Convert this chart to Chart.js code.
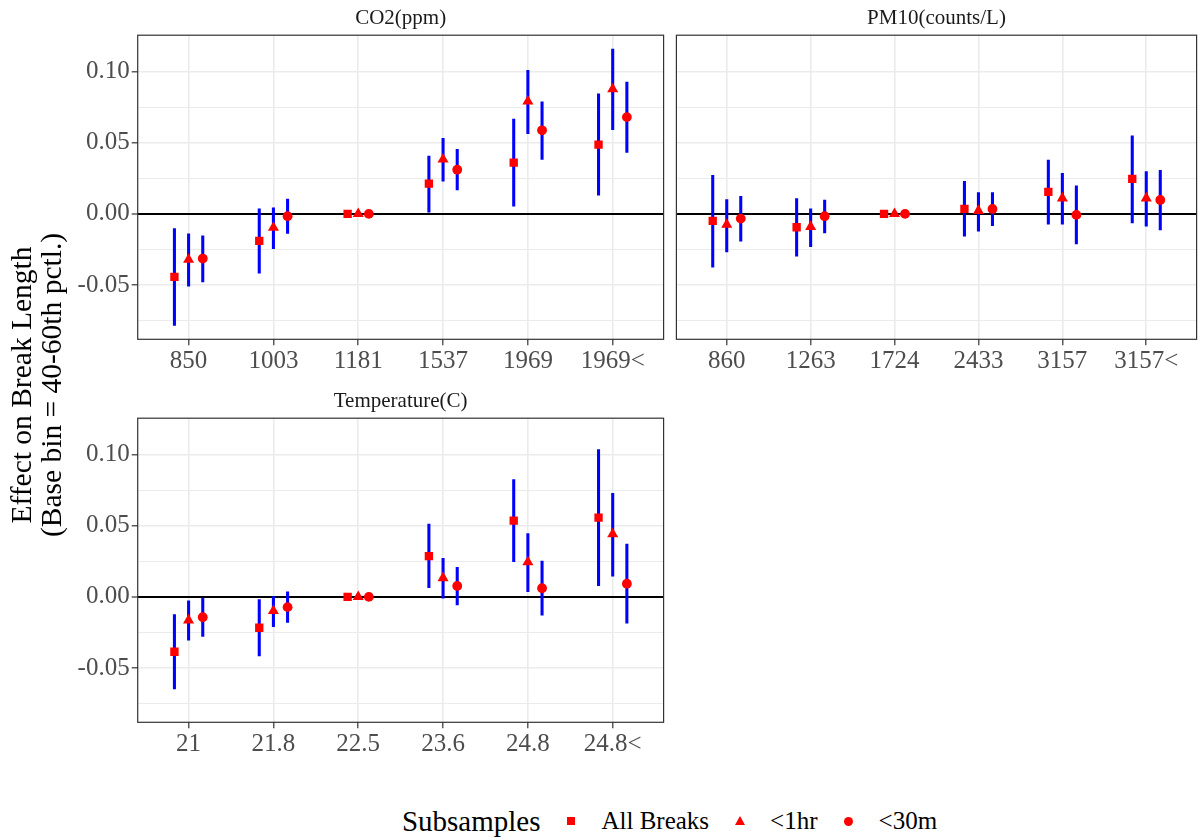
<!DOCTYPE html>
<html>
<head>
<meta charset="utf-8">
<script src="https://cdn.jsdelivr.net/npm/chart.js@4.4.0/dist/chart.umd.min.js"></script>
<style>
  body { margin: 0; background: #fff; width: 1203px; height: 838px; position: relative; overflow: hidden;
         font-family: 'Liberation Serif', 'Times New Roman', serif; }
  .panel { position: absolute; }
  #ytitle { position: absolute; left: -262px; top: 353px; width: 600px; height: 64px;
            transform: rotate(-90deg); text-align: center; font-size: 29.5px; line-height: 30px; color: #000; }
  #legend { position: absolute; left: 138px; width: 1063px; top: 804px; height: 34px;
            display: flex; justify-content: center; align-items: center; color: #000; }
  #legend .title { font-size: 29px; margin-right: 23px; }
  #legend .key { width: 16px; height: 16px; margin-right: 22px; position: relative; }
  #legend .txt { font-size: 25px; margin-right: 23px; }
  #legend .txt:last-child { margin-right: 0; }
  .sq { position: absolute; left: 4px; top: 4px; width: 8px; height: 8px; background: #f00; }
  .tri { position: absolute; left: 3px; top: 3px; width: 0; height: 0;
         border-left: 5px solid transparent; border-right: 5px solid transparent; border-bottom: 9px solid #f00; }
  .dot { position: absolute; left: 3.5px; top: 3.5px; width: 9px; height: 9px; border-radius: 50%; background: #f00; }
</style>
</head>
<body>
<canvas id="p1" class="panel" style="left:0;top:0" width="670" height="385"></canvas>
<canvas id="p2" class="panel" style="left:670px;top:0" width="533" height="385"></canvas>
<canvas id="p3" class="panel" style="left:0;top:383px" width="670" height="385"></canvas>
<div id="ytitle">Effect on Break Length<br>(Base bin = 40-60th pctl.)</div>
<div id="legend">
  <span class="title">Subsamples</span>
  <span class="key"><span class="sq"></span></span><span class="txt">All Breaks</span>
  <span class="key"><span class="tri"></span></span><span class="txt">&lt;1hr</span>
  <span class="key"><span class="dot"></span></span><span class="txt">&lt;30m</span>
</div>
<script>
'use strict'

const SERIES = ['All Breaks', '<1hr', '<30m']

// each row: [estimate, lower, upper]
const co2Bins = ['850', '1003', '1181', '1537', '1969', '1969<']
const co2All = [[-0.0443, -0.0785, -0.0103], [-0.019, -0.0417, 0.0035], [0, 0, 0],
  [0.0213, 0.0012, 0.0407], [0.0361, 0.0054, 0.0667], [0.0487, 0.0131, 0.0845]]
const co2Hr = [[-0.0321, -0.0508, -0.0141], [-0.0096, -0.0244, 0.0042], [0, 0, 0],
  [0.0384, 0.023, 0.0532], [0.0792, 0.0564, 0.101], [0.0878, 0.0593, 0.116]]
const co2Min = [[-0.0314, -0.0478, -0.0155], [-0.0016, -0.0138, 0.0105], [0, 0, 0],
  [0.0311, 0.0169, 0.0454], [0.0588, 0.0384, 0.0789], [0.0681, 0.0433, 0.0927]]

const pmBins = ['860', '1263', '1724', '2433', '3157', '3157<']
const pmAll = [[-0.0049, -0.0375, 0.0272], [-0.0094, -0.0297, 0.0108], [0, 0, 0],
  [0.0035, -0.0157, 0.023], [0.0155, -0.0073, 0.0379], [0.0246, -0.0063, 0.055]]
const pmHr = [[-0.0075, -0.0267, 0.0101], [-0.009, -0.023, 0.0035], [0, 0, 0],
  [0.0022, -0.0122, 0.015], [0.011, -0.0073, 0.0286], [0.011, -0.0087, 0.0297]]
const pmMin = [[-0.0033, -0.0192, 0.0124], [-0.0016, -0.0133, 0.0098], [0, 0, 0],
  [0.0035, -0.0082, 0.015], [-0.0007, -0.0211, 0.0197], [0.0098, -0.0112, 0.0307]]

const tempBins = ['21', '21.8', '22.5', '23.6', '24.8', '24.8<']
const tempAll = [[-0.0386, -0.0647, -0.0124], [-0.0217, -0.0416, -0.0019], [0, 0, 0],
  [0.0287, 0.0065, 0.0512], [0.0537, 0.0248, 0.0825], [0.0558, 0.0079, 0.1037]]
const tempHr = [[-0.0164, -0.0304, -0.0028], [-0.0098, -0.021, 0.0002], [0, 0, 0],
  [0.0133, -0.0009, 0.0271], [0.0245, 0.0037, 0.0446], [0.0442, 0.0145, 0.0729]]
const tempMin = [[-0.0143, -0.0278, -0.0009], [-0.0072, -0.018, 0.0035], [0, 0, 0],
  [0.0077, -0.0056, 0.0208], [0.0061, -0.0129, 0.0252], [0.0093, -0.0185, 0.0371]]

const yMajor = [-0.05, 0, 0.05, 0.10]
const yMinor = [-0.075, -0.025, 0.025, 0.075]

const FONT = "'Liberation Serif', 'Times New Roman', serif"
const STYLES = ['rect', 'triangle', 'circle']
const RADII = [5.9, 6.4, 4.9]
const DODGE = 0.167
const BASE_DODGE = 0.125

// shared y range: data extent plus 5% on each side
const allRows = [co2All, co2Hr, co2Min, pmAll, pmHr, pmMin, tempAll, tempHr, tempMin].flat()
const lo = Math.min(...allRows.map(r => r[1]))
const hi = Math.max(...allRows.map(r => r[2]))
const yMin = lo - (hi - lo) * 0.05
const yMax = hi + (hi - lo) * 0.05

const isMajor = v => yMajor.some(m => Math.abs(m - v) < 1e-9)

const panelBox = {
  id: 'panelBox',
  afterDraw(chart) {
    const { ctx, chartArea: a } = chart
    ctx.save()
    ctx.strokeStyle = '#333'
    ctx.lineWidth = 1.2
    ctx.strokeRect(a.left, a.top, a.width, a.height)
    ctx.restore()
  }
}

function makePanel(id, title, bins, series, opts) {
  const isBase = bins.map((_, i) => series.every(rows => rows[i].every(v => v === 0)))
  const xOf = (i, s) => i + (s - 1) * (isBase[i] ? BASE_DODGE : DODGE)

  // error bars as thin floating bars, drawn under the points
  const bars = series.map((rows, s) => ({
    type: 'bar',
    label: SERIES[s] + ' CI',
    data: rows.map((r, i) => ({ x: xOf(i, s), y: [r[1], r[2]] })),
    backgroundColor: '#0000FF',
    borderWidth: 0,
    barThickness: 2.4,
    grouped: false,
    order: 1
  }))

  const points = series.map((rows, s) => ({
    type: 'scatter',
    label: SERIES[s],
    data: rows.map((r, i) => ({ x: xOf(i, s), y: r[0] })),
    pointStyle: STYLES[s],
    pointRadius: RADII[s],
    backgroundColor: '#FF0000',
    borderWidth: 0,
    order: 0
  }))

  return new Chart(document.getElementById(id), {
    type: 'scatter',
    data: { datasets: [...points, ...bars] },
    plugins: [panelBox],
    options: {
      responsive: false,
      animation: false,
      events: [],
      layout: { padding: { left: 0, right: opts.padRight, top: 0, bottom: 0 } },
      plugins: {
        legend: { display: false },
        tooltip: { enabled: false },
        title: {
          display: true,
          text: title,
          fullSize: false,
          color: '#1A1A1A',
          font: { family: FONT, size: 21, weight: 'normal', lineHeight: 1.2 },
          padding: { top: 6, bottom: 4 }
        }
      },
      scales: {
        x: {
          type: 'linear',
          min: -0.6,
          max: bins.length - 0.4,
          offset: false,
          afterBuildTicks: scale => { scale.ticks = bins.map((_, i) => ({ value: i })) },
          afterFit: scale => { scale.height = 45.7 },
          ticks: {
            autoSkip: false,
            maxRotation: 0,
            padding: 1,
            color: '#4D4D4D',
            font: { family: FONT, size: 25 },
            callback: v => bins[Math.round(v)]
          },
          grid: { offset: false, color: '#EBEBEB', lineWidth: 1.6, tickColor: '#333', tickLength: 6, tickWidth: 1.2 },
          border: { display: false }
        },
        y: {
          min: yMin,
          max: yMax,
          afterBuildTicks: scale => {
            scale.ticks = [...yMinor, ...yMajor].sort((a, b) => a - b).map(v => ({ value: v }))
          },
          afterFit: scale => { scale.width = opts.axisWidth },
          ticks: {
            display: opts.showY,
            autoSkip: false,
            padding: 2,
            color: '#4D4D4D',
            font: { family: FONT, size: 25 },
            callback: v => isMajor(v) ? v.toFixed(2) : ''
          },
          grid: {
            drawTicks: opts.showY,
            tickLength: 6,
            tickWidth: 1.2,
            color: c => Math.abs(c.tick.value) < 1e-9 ? '#000000' : '#EBEBEB',
            lineWidth: c => Math.abs(c.tick.value) < 1e-9 ? 2 : (isMajor(c.tick.value) ? 1.6 : 1.1),
            tickColor: c => isMajor(c.tick.value) ? '#333' : 'rgba(0,0,0,0)'
          },
          border: { display: false }
        }
      }
    }
  })
}

makePanel('p1', 'CO2(ppm)', co2Bins, [co2All, co2Hr, co2Min], { showY: true, axisWidth: 137.7, padRight: 5.7 })
makePanel('p2', 'PM10(counts/L)', pmBins, [pmAll, pmHr, pmMin], { showY: false, axisWidth: 5, padRight: 1.7 })
makePanel('p3', 'Temperature(C)', tempBins, [tempAll, tempHr, tempMin], { showY: true, axisWidth: 137.7, padRight: 5.7 })
</script>
</body>
</html>
